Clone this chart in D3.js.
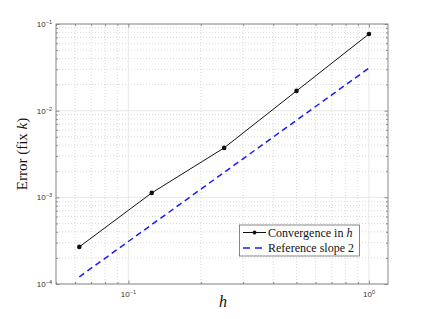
<!DOCTYPE html>
<html><head><meta charset="utf-8">
<script src="https://cdn.jsdelivr.net/npm/d3@7"></script>
<style>body{margin:0;background:#fff}svg{display:block}</style>
</head><body>
<script>
const hValues = [0.0625, 0.125, 0.25, 0.5, 1];
const errValues = [0.000268, 0.001125, 0.00372, 0.0169, 0.0767];
const refValues = [0.000121, 0.000484, 0.00194, 0.00775, 0.031];
const xTickExps = [-1, 0];
const yTickExps = [-4, -3, -2, -1];
const seriesNames = ["Convergence in ", "Reference slope 2"];

const W = 429, H = 319;
const m = {l: 56, t: 24, r: 388, b: 284};
const svg = d3.select("body").append("svg").attr("width", W).attr("height", H);
const x = d3.scaleLog().domain([0.05, 1.2]).range([m.l, m.r]);
const y = d3.scaleLog().domain([1e-4, 1e-1]).range([m.b, m.t]);

const g = svg.append("g");
const xMinor = [], yMinor = [];
for (let e = -2; e <= 0; e++) for (let k = 2; k < 10; k++) { const v = k * Math.pow(10, e); if (v >= 0.05 && v <= 1.2) xMinor.push(v); }
for (let e = -4; e < -1; e++) for (let k = 2; k < 10; k++) yMinor.push(k * Math.pow(10, e));
g.selectAll(".xm").data(xMinor).enter().append("line")
  .attr("x1", d => x(d)).attr("x2", d => x(d)).attr("y1", m.t).attr("y2", m.b)
  .attr("stroke", "#cfcfcf").attr("stroke-width", 0.8).attr("stroke-dasharray", "1,2");
g.selectAll(".ym").data(yMinor).enter().append("line")
  .attr("y1", d => y(d)).attr("y2", d => y(d)).attr("x1", m.l).attr("x2", m.r)
  .attr("stroke", "#cfcfcf").attr("stroke-width", 0.8).attr("stroke-dasharray", "1,2");
g.selectAll(".xM").data(xTickExps).enter().append("line")
  .attr("x1", d => x(Math.pow(10, d))).attr("x2", d => x(Math.pow(10, d))).attr("y1", m.t).attr("y2", m.b)
  .attr("stroke", "#e3e3e3").attr("stroke-width", 0.8);
g.selectAll(".yM").data(yTickExps).enter().append("line")
  .attr("y1", d => y(Math.pow(10, d))).attr("y2", d => y(Math.pow(10, d))).attr("x1", m.l).attr("x2", m.r)
  .attr("stroke", "#e3e3e3").attr("stroke-width", 0.8);

const axCol = "#444";
function styleAxis(sel) {
  sel.select(".domain").remove();
  sel.selectAll("line").attr("stroke", axCol).attr("stroke-width", 0.6);
  sel.selectAll("text").remove();
}
function ticks(axisFn, scale, majorVals, minorVals, tr, big, small) {
  const a1 = svg.append("g").attr("transform", tr).call(axisFn(scale).tickValues(majorVals).tickSize(big).tickFormat(""));
  styleAxis(a1);
  const a2 = svg.append("g").attr("transform", tr).call(axisFn(scale).tickValues(minorVals).tickSize(small).tickFormat(""));
  styleAxis(a2);
}
const xMaj = xTickExps.map(e => Math.pow(10, e)), yMaj = yTickExps.map(e => Math.pow(10, e));
ticks(d3.axisTop, x, xMaj, xMinor, `translate(0,${m.b})`, 3.5, 2);
ticks(d3.axisBottom, x, xMaj, xMinor, `translate(0,${m.t})`, 3.5, 2);
ticks(d3.axisRight, y, yMaj, yMinor, `translate(${m.l},0)`, 3.5, 2);
ticks(d3.axisLeft, y, yMaj, yMinor, `translate(${m.r},0)`, 3.5, 2);

svg.append("rect").attr("x", m.l).attr("y", m.t).attr("width", m.r - m.l).attr("height", m.b - m.t)
  .attr("fill", "none").attr("stroke", "#8a8a8a").attr("stroke-width", 1);

const tf = "Liberation Sans, Arial, sans-serif";
xTickExps.forEach(e => {
  const t = svg.append("text").attr("x", x(Math.pow(10, e))).attr("y", 297).attr("text-anchor", "middle")
    .attr("font-family", tf).attr("font-size", 8).attr("fill", "#333");
  t.append("tspan").text("10");
  t.append("tspan").attr("dy", -3).attr("font-size", 5.5).text(String(e).replace("-", "\u2212"));
});
yTickExps.forEach(e => {
  const t = svg.append("text").attr("x", 52).attr("y", y(Math.pow(10, e)) + 3).attr("text-anchor", "end")
    .attr("font-family", tf).attr("font-size", 8).attr("fill", "#333");
  t.append("tspan").text("10");
  t.append("tspan").attr("dy", -3).attr("font-size", 5.5).text(String(e).replace("-", "\u2212"));
});

const line = d3.line().x(d => x(d[0])).y(d => y(d[1]));
svg.append("path").datum(hValues.map((h, i) => [h, refValues[i]])).attr("d", line)
  .attr("fill", "none").attr("stroke", "#1a1aff").attr("stroke-width", 1.5).attr("stroke-dasharray", "6,4");
svg.append("path").datum(hValues.map((h, i) => [h, errValues[i]])).attr("d", line)
  .attr("fill", "none").attr("stroke", "#111").attr("stroke-width", 1);
svg.selectAll(".pt").data(hValues.map((h, i) => [h, errValues[i]])).enter().append("circle")
  .attr("cx", d => x(d[0])).attr("cy", d => y(d[1])).attr("r", 2.3).attr("fill", "#111");

svg.append("text").attr("transform", "translate(27,154) rotate(-90)").attr("text-anchor", "middle")
  .attr("font-family", "Liberation Serif, serif").attr("font-size", 15).attr("fill", "#111")
  .html('Error (fix <tspan font-style="italic">k</tspan>)');
svg.append("text").attr("x", 223).attr("y", 307).attr("text-anchor", "middle")
  .attr("font-family", "Liberation Serif, serif").attr("font-size", 16).attr("font-style", "italic").attr("fill", "#111").text("h");

const lg = svg.append("g");
lg.append("rect").attr("x", 239.5).attr("y", 225).attr("width", 120).attr("height", 31)
  .attr("fill", "#fff").attr("stroke", "#555").attr("stroke-width", 0.7);
lg.append("line").attr("x1", 243).attr("x2", 266).attr("y1", 232.5).attr("y2", 232.5).attr("stroke", "#111").attr("stroke-width", 1);
lg.append("circle").attr("cx", 254.5).attr("cy", 232.5).attr("r", 2).attr("fill", "#111");
lg.append("line").attr("x1", 243).attr("x2", 266).attr("y1", 248).attr("y2", 248).attr("stroke", "#1a1aff").attr("stroke-width", 1.5).attr("stroke-dasharray", "7,5");
const t1 = lg.append("text").attr("x", 268).attr("y", 236.5).attr("font-family", "Liberation Serif, serif").attr("font-size", 12).attr("fill", "#111");
t1.append("tspan").text(seriesNames[0]);
t1.append("tspan").attr("font-style", "italic").text("h");
lg.append("text").attr("x", 268).attr("y", 252).attr("font-family", "Liberation Serif, serif").attr("font-size", 12).attr("fill", "#111").text(seriesNames[1]);
</script>
</body></html>
